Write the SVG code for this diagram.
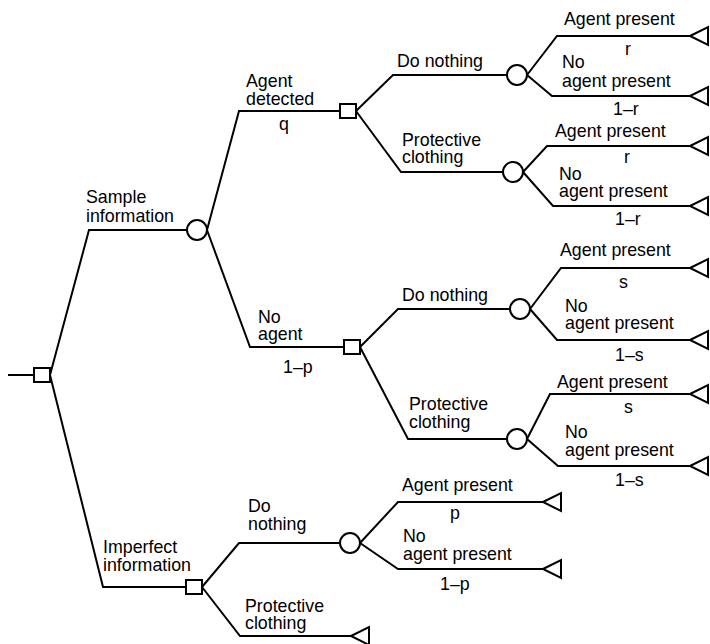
<svg xmlns="http://www.w3.org/2000/svg" width="710" height="644" viewBox="0 0 710 644">
  <style>
    .ln { fill: none; stroke: #000; stroke-width: 2; stroke-linejoin: miter; }
    .dec { fill: #fff; stroke: #000; stroke-width: 2; }
    .chance { fill: #fff; stroke: #000; stroke-width: 2; }
    .term { fill: #fff; stroke: #000; stroke-width: 2; stroke-linejoin: miter; }
    text { font-family: "Liberation Sans", Arial, Helvetica, sans-serif; font-size: 17.8px; fill: #000; }
  </style>
  <defs>
    <rect id="sq" x="-8" y="-7" width="16" height="14"/>
    <circle id="ci" r="10"/>
    <polygon id="tri" points="0,0 18,-9 18,9"/>
  </defs>
  <rect width="710" height="644" fill="#fff"/>

  <!-- branches -->
  <g id="connectors">
    <polyline class="ln" points="8,375 34,375"/>
    <polyline class="ln" points="50,375 89,230 187,230"/>
    <polyline class="ln" points="207,230 239,111 340,111"/>
    <polyline class="ln" points="207,230 250,347 344,347"/>
    <polyline class="ln" points="50,375 103,587 186,587"/>
    <polyline class="ln" points="356,111 393,75 507,75"/>
    <polyline class="ln" points="356,111 401,172 503,172"/>
    <polyline class="ln" points="527,75 557,36 690,36"/>
    <polyline class="ln" points="527,75 552,96 690,96"/>
    <polyline class="ln" points="523,172 547,146 690,146"/>
    <polyline class="ln" points="523,172 553,206 690,206"/>
    <polyline class="ln" points="360,347 398,309 510,309"/>
    <polyline class="ln" points="360,347 408,439 507,439"/>
    <polyline class="ln" points="530,309 561,268 690,268"/>
    <polyline class="ln" points="530,309 557,340 690,340"/>
    <polyline class="ln" points="527,439 550,394 690,394"/>
    <polyline class="ln" points="527,439 558,466 690,466"/>
    <polyline class="ln" points="202,587 239,543 340,543"/>
    <polyline class="ln" points="202,587 240,636 351,636"/>
    <polyline class="ln" points="360,543 398,502 543,502"/>
    <polyline class="ln" points="360,543 398,569 543,569"/>
  </g>

  <!-- decision nodes -->
  <g id="root"><use href="#sq" class="dec" x="42" y="375"/></g>
  <g id="dec-agent-detected">
    <use href="#sq" class="dec" x="348" y="111"/>
    <text x="246" y="87">Agent</text>
    <text x="246" y="105">detected</text>
    <text x="279" y="130">q</text>
  </g>
  <g id="dec-no-agent">
    <use href="#sq" class="dec" x="352" y="347"/>
    <text x="258" y="323">No</text>
    <text x="258" y="340">agent</text>
    <text x="283" y="373">1–p</text>
  </g>
  <g id="dec-imperfect">
    <use href="#sq" class="dec" x="194" y="587"/>
    <text x="103" y="553">Imperfect</text>
    <text x="103" y="571">information</text>
  </g>

  <!-- chance nodes -->
  <g id="chance-sample">
    <use href="#ci" class="chance" x="197" y="230"/>
    <text x="86" y="203">Sample</text>
    <text x="86" y="222">information</text>
  </g>
  <g id="chance-q-nothing">
    <use href="#ci" class="chance" x="517" y="75"/>
    <text x="397" y="67">Do nothing</text>
    <text x="564" y="25">Agent present</text>
    <text x="625" y="55">r</text>
    <text x="562" y="68">No</text>
    <text x="562" y="87">agent present</text>
    <text x="613" y="115">1–r</text>
  </g>
  <g id="chance-q-clothing">
    <use href="#ci" class="chance" x="513" y="172"/>
    <text x="402" y="146">Protective</text>
    <text x="402" y="163">clothing</text>
    <text x="555" y="137">Agent present</text>
    <text x="624" y="163">r</text>
    <text x="559" y="180">No</text>
    <text x="559" y="197">agent present</text>
    <text x="615" y="225">1–r</text>
  </g>
  <g id="chance-n-nothing">
    <use href="#ci" class="chance" x="520" y="309"/>
    <text x="402" y="301">Do nothing</text>
    <text x="560" y="256">Agent present</text>
    <text x="619" y="288">s</text>
    <text x="565" y="312">No</text>
    <text x="565" y="329">agent present</text>
    <text x="615" y="361">1–s</text>
  </g>
  <g id="chance-n-clothing">
    <use href="#ci" class="chance" x="517" y="439"/>
    <text x="409" y="410">Protective</text>
    <text x="409" y="428">clothing</text>
    <text x="557" y="388">Agent present</text>
    <text x="624" y="413">s</text>
    <text x="565" y="438">No</text>
    <text x="565" y="456">agent present</text>
    <text x="615" y="486">1–s</text>
  </g>
  <g id="chance-i-nothing">
    <use href="#ci" class="chance" x="350" y="543"/>
    <text x="248" y="512">Do</text>
    <text x="248" y="530">nothing</text>
    <text x="402" y="491">Agent present</text>
    <text x="450" y="519">p</text>
    <text x="403" y="542">No</text>
    <text x="403" y="560">agent present</text>
    <text x="440" y="590">1–p</text>
  </g>

  <!-- end points -->
  <g id="ends">
    <use href="#tri" class="term" x="690" y="36"/>
    <use href="#tri" class="term" x="690" y="96"/>
    <use href="#tri" class="term" x="690" y="146"/>
    <use href="#tri" class="term" x="690" y="206"/>
    <use href="#tri" class="term" x="690" y="268"/>
    <use href="#tri" class="term" x="690" y="340"/>
    <use href="#tri" class="term" x="690" y="394"/>
    <use href="#tri" class="term" x="690" y="466"/>
    <use href="#tri" class="term" x="543" y="502"/>
    <use href="#tri" class="term" x="543" y="569"/>
  </g>
  <g id="end-i-clothing">
    <use href="#tri" class="term" x="351" y="636"/>
    <text x="245" y="612">Protective</text>
    <text x="245" y="629">clothing</text>
  </g>
</svg>
